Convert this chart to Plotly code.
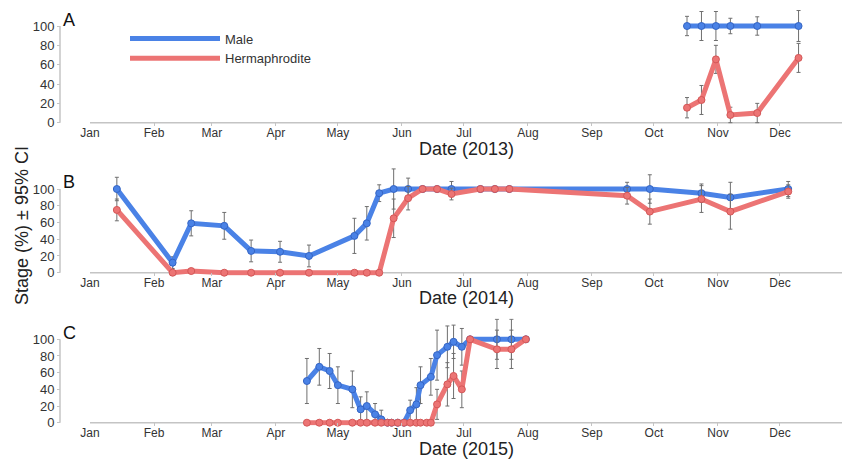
import plotly.graph_objects as go

# ---------------- data ----------------
months = ["Jan", "Feb", "Mar", "Apr", "May", "Jun", "Jul", "Aug", "Sep", "Oct", "Nov", "Dec"]
y_ticks = [0, 20, 40, 60, 80, 100]

# 2013
male_dates_2013 = ["2013-10-17", "2013-10-24", "2013-10-31", "2013-11-07", "2013-11-20", "2013-12-10"]
male_2013 = [100, 100, 100, 100, 100, 100]
male_ci_2013 = [10, 15, 15, 8, 9.5, 16]
herm_dates_2013 = male_dates_2013
herm_2013 = [15.5, 23.5, 65.5, 8, 10, 67]
herm_ci_2013 = [10.5, 15, 14.5, 8, 10, 15]

# 2014
male_dates_2014 = ["2014-01-14", "2014-02-10", "2014-02-19", "2014-03-07", "2014-03-20", "2014-04-03",
                   "2014-04-17", "2014-05-09", "2014-05-15", "2014-05-21", "2014-05-28", "2014-06-04",
                   "2014-06-11", "2014-06-18", "2014-06-25", "2014-07-09", "2014-07-16", "2014-07-23",
                   "2014-09-18", "2014-09-29", "2014-10-24", "2014-11-07", "2014-12-05"]
male_2014 = [100, 12, 59, 56, 26, 25, 20, 44, 59, 95, 100, 100, 100, 100, 100, 100, 100, 100,
             100, 100, 95, 90, 100]
male_ci_2014 = [14, 7, 15, 16, 13, 12.5, 13, 21, 20, 10, 24, 13, 0, 0, 9, 0, 0, 0,
                8, 17, 11, 18, 9]
herm_dates_2014 = male_dates_2014
herm_2014 = [75, 0, 2, 0, 0, 0, 0, 0, 0, 0, 65, 89, 100, 100, 94, 100, 100, 100,
             92, 73, 88, 73, 97]
herm_ci_2014 = [13, 0, 3, 0, 0, 0, 0, 0, 0, 0, 23, 14, 0, 0, 7, 0, 0, 0,
                10, 15, 16, 21, 8]

# 2015
male_dates_2015 = ["2015-04-16", "2015-04-22", "2015-04-27", "2015-05-01", "2015-05-08", "2015-05-12",
                   "2015-05-15", "2015-05-19", "2015-05-22", "2015-05-25", "2015-05-27", "2015-05-30",
                   "2015-06-02", "2015-06-05", "2015-06-08", "2015-06-10", "2015-06-15", "2015-06-18",
                   "2015-06-23", "2015-06-26", "2015-06-30", "2015-07-04", "2015-07-17", "2015-07-24",
                   "2015-07-31"]
male_2015 = [50, 67, 62, 45, 40, 16, 20, 10, 4, 0, 0, 0, 0, 15, 22, 45, 55, 81, 91, 97, 91,
             100, 100, 100, 100]
male_ci_2015 = [27, 22, 21, 22, 22, 15, 17, 13, 11, 0, 0, 0, 0, 12, 20, 22, 22, 30, 25, 20, 22,
                0, 24, 24, 0]
herm_dates_2015 = ["2015-04-16", "2015-04-22", "2015-04-27", "2015-05-01", "2015-05-08", "2015-05-12",
                   "2015-05-15", "2015-05-19", "2015-05-22", "2015-05-25", "2015-05-27", "2015-05-30",
                   "2015-06-02", "2015-06-05", "2015-06-08", "2015-06-10", "2015-06-13", "2015-06-15",
                   "2015-06-18", "2015-06-23", "2015-06-26", "2015-06-30", "2015-07-04", "2015-07-17",
                   "2015-07-24", "2015-07-31"]
herm_2015 = [0] * 18 + [22, 46, 56, 40, 100, 88, 88, 100]
herm_ci_2015 = [0] * 18 + [18, 26, 27, 22, 0, 23, 23, 0]

years = [2013, 2014, 2015]
panel_letters = ["A", "B", "C"]
series = {
    2013: (male_dates_2013, male_2013, male_ci_2013, herm_dates_2013, herm_2013, herm_ci_2013),
    2014: (male_dates_2014, male_2014, male_ci_2014, herm_dates_2014, herm_2014, herm_ci_2014),
    2015: (male_dates_2015, male_2015, male_ci_2015, herm_dates_2015, herm_2015, herm_ci_2015),
}

# ---------------- style / layout ----------------
OFF = 8                      # page body margin of the html file
W, H = 850 - OFF, 460 - OFF  # figure size so it fits the window


def fx(p):  # page pixel column -> paper x
    return (p - OFF) / W


def fy(p):  # page pixel row -> paper y
    return 1 - (p - OFF) / H


BLUE, BLUE_D = "#4a82e6", "#3565c4"
RED, RED_D = "#ec7474", "#d45757"
FONT = "Arial, Liberation Sans, sans-serif"
TXT = "#333333"
AX = "#c4c4c4"
YMIN, YMAX = -3.5, 125
# page pixel rows of value 0 and value 100 in each panel
panel_px = [(122.7, 26.0), (272.7, 189.0), (422.7, 339.3)]
x_left_px, x_right_px, yaxis_px = 90, 844, 60
letter_top_px = [8, 170, 321]

fig = go.Figure()
layout = dict(
    template="none",
    width=W, height=H, margin=dict(l=0, r=0, t=0, b=0, autoexpand=False),
    paper_bgcolor="white", plot_bgcolor="rgba(0,0,0,0)",
    font=dict(family=FONT, color=TXT),
    showlegend=True,
    legend=dict(x=fx(125), y=fy(23.5), xanchor="left", yanchor="top",
                font=dict(size=13, color=TXT, family=FONT), itemwidth=90,
                bgcolor="rgba(0,0,0,0)", tracegroupgap=0),
)
shapes, annotations = [], []

for i, yr in enumerate(years):
    sfx = "" if i == 0 else str(i + 1)
    xa, ya = "x" + sfx, "y" + sfx
    y0px, y100px = panel_px[i]
    ppu = (y0px - y100px) / 100.0
    bottom_px = y0px - YMIN * ppu
    top_px = max(y100px - (YMAX - 100) * ppu, OFF)
    ymax = 100 + (y100px - top_px) / ppu
    tickvals = [f"{yr}-{m:02d}-01" for m in range(1, 13)] + [f"{yr + 1}-01-01"]
    layout["xaxis" + sfx] = dict(
        type="date", domain=[fx(x_left_px), fx(x_right_px)], anchor=ya, automargin=False,
        range=[f"{yr}-01-01", f"{yr + 1}-01-01"], tickmode="array",
        tickvals=tickvals, ticktext=months + [""], showgrid=False, zeroline=False,
        showline=False, ticks="inside", ticklen=round(-YMIN * ppu), tickcolor=AX, tickwidth=1,
        tickfont=dict(size=12, color=TXT, family=FONT), ticklabelstandoff=-2,
    )
    layout["yaxis" + sfx] = dict(
        domain=[fy(bottom_px), fy(top_px)], range=[YMIN, ymax], anchor="free",
        position=fx(yaxis_px), tickmode="array", tickvals=y_ticks, showgrid=False,
        automargin=False, zeroline=False, showline=False, ticks="outside", ticklen=3,
        tickcolor=AX, tickfont=dict(size=13, color=TXT, family=FONT),
    )
    # offset axis lines (base-R style)
    shapes.append(dict(type="line", xref=xa, yref=ya, x0=f"{yr}-01-01", x1=f"{yr + 1}-01-01",
                       y0=0, y1=0, line=dict(color=AX, width=1.5), layer="below"))
    shapes.append(dict(type="line", xref="paper", yref=ya, x0=fx(yaxis_px), x1=fx(yaxis_px),
                       y0=0, y1=100, line=dict(color=AX, width=1.5), layer="below"))

    md, mv, mc, hd, hv, hc = series[yr]
    for d, v, c, col, dcol, name in [(md, mv, mc, BLUE, BLUE_D, "Male"),
                                     (hd, hv, hc, RED, RED_D, "Hermaphrodite")]:
        fig.add_trace(go.Scatter(
            x=d, y=v, mode="lines+markers", name=name, showlegend=False, xaxis=xa, yaxis=ya,
            line=dict(color=col, width=5),
            marker=dict(size=7, color=col, line=dict(color=dcol, width=1)),
            error_y=dict(type="data", array=c, visible=True, color="#6f6f6f", thickness=1, width=2),
            cliponaxis=False,
        ))

    annotations.append(dict(text=panel_letters[i], xref="paper", yref="paper", x=fx(69),
                            y=fy(letter_top_px[i]), showarrow=False,
                            font=dict(size=18, color="#111111", family=FONT),
                            xanchor="center", yanchor="top"))
    annotations.append(dict(text=f"Date ({yr})", xref="paper", yref="paper", x=fx(466),
                            y=fy([149, 298, 449][i]), showarrow=False,
                            font=dict(size=18, color="#222222", family=FONT),
                            xanchor="center", yanchor="middle"))

annotations.append(dict(text="Stage (%) ± 95% CI", xref="paper", yref="paper", x=fx(22),
                        y=fy(226), showarrow=False, textangle=-90,
                        font=dict(size=18, color="#222222", family=FONT),
                        xanchor="center", yanchor="middle"))

# legend-only entries (plain lines)
for name, col in [("Male", BLUE), ("Hermaphrodite", RED)]:
    fig.add_trace(go.Scatter(x=[None], y=[None], mode="lines", name=name,
                             line=dict(color=col, width=5), xaxis="x", yaxis="y"))

layout["shapes"] = shapes
layout["annotations"] = annotations
fig.update_layout(**layout)
fig.write_html("out.html")
